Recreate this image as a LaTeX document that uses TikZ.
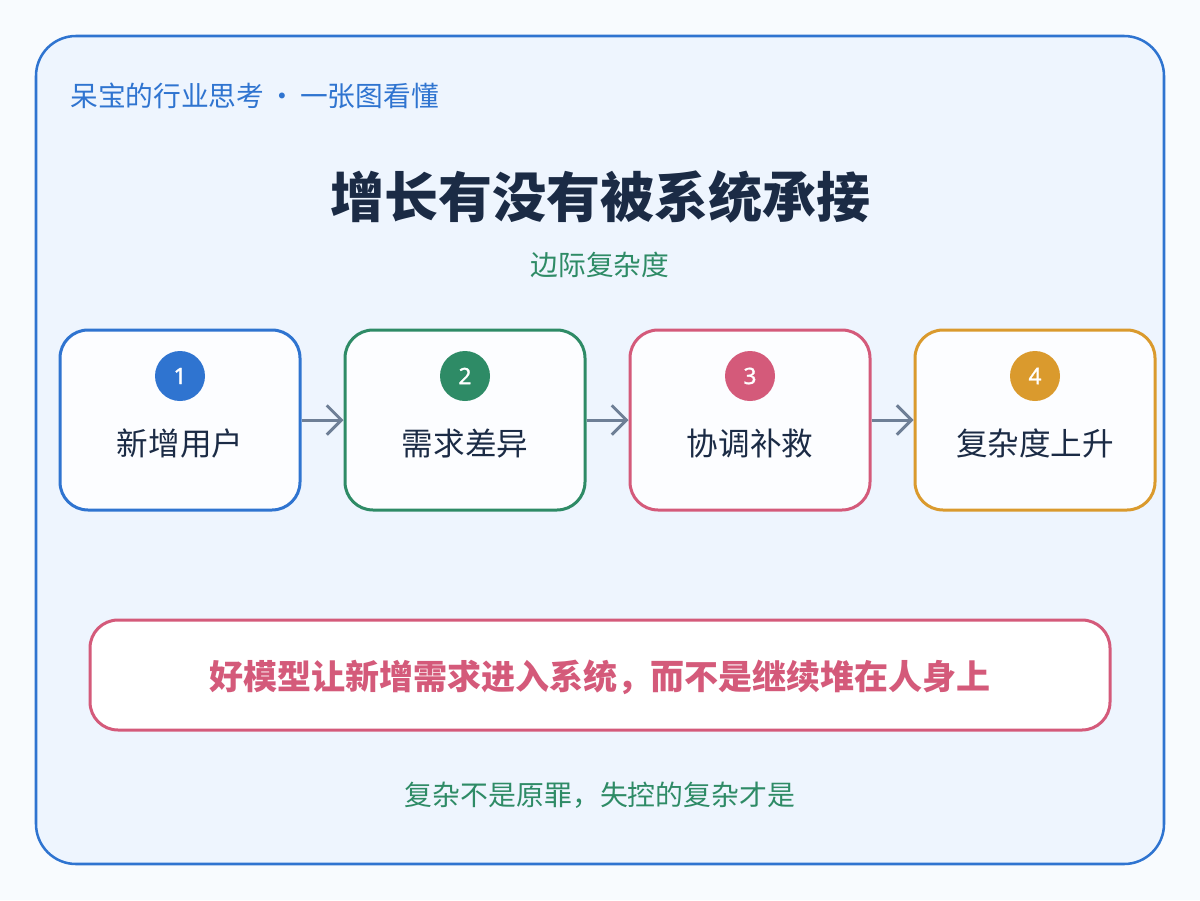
\documentclass[tikz,border=0pt]{standalone}
\usepackage{fontspec}
\setmainfont{Noto Sans CJK SC}
\newfontfamily\cjk{Noto Sans CJK SC}
\newfontfamily\numfont[FakeBold=1.2]{Noto Sans}
\usetikzlibrary{arrows.meta}
\definecolor{pagebg}{HTML}{F8FBFE}
\definecolor{panelbg}{HTML}{EEF5FE}
\definecolor{cblue}{HTML}{2F74D0}
\definecolor{cgreen}{HTML}{2E8B66}
\definecolor{cpink}{HTML}{D45A7A}
\definecolor{corange}{HTML}{DA9A2D}
\definecolor{navy}{HTML}{1B2B45}
\definecolor{arrowgray}{HTML}{6E7F96}
\definecolor{boxfill}{HTML}{FCFDFF}
\tikzset{
  stepbox/.style={draw=#1, line width=2.25pt, fill=boxfill, rounded corners=21pt,
    minimum width=180pt, minimum height=135pt, inner sep=0pt},
  numdot/.style={circle, fill=#1, minimum size=37.5pt, inner sep=0pt, text=white,
    font=\numfont\fontsize{17}{17}\selectfont},
  steplabel/.style={text=navy, font=\cjk\fontsize{23.7}{23.7}\selectfont, inner sep=0pt},
  flow/.style={draw=arrowgray, line width=2.25pt, -{Straight Barb[length=11pt,width=22pt,line width=2.25pt]}},
}
\begin{document}
\begin{tikzpicture}[x=0.75pt,y=-0.75pt]
\useasboundingbox (0,0) rectangle (1200,900);
\fill[pagebg] (0,0) rectangle (1200,900);
\draw[cblue, line width=1.9pt, fill=panelbg, rounded corners=30pt] (36,36) rectangle (1164,864);
\node[anchor=west, text=cblue, font=\cjk\fontsize{20.8}{20.8}\selectfont, inner sep=0pt] (hdr) at (70,96) {呆宝的行业思考\hspace{3pt}·\hspace{3pt}一张图看懂};
\node[text=navy, font=\cjk\bfseries\fontsize{40.5}{40.5}\selectfont, inner sep=0pt] (title) at (600,197) {增长有没有被系统承接};
\node[text=cgreen, font=\cjk\fontsize{20.8}{20.8}\selectfont, inner sep=0pt] (sub) at (600,265) {边际复杂度};

\node[stepbox=cblue] (b1) at (180,420) {};
\node[stepbox=cgreen] (b2) at (465,420) {};
\node[stepbox=cpink] (b3) at (750,420) {};
\node[stepbox=corange] (b4) at (1035,420) {};

\node[numdot=cblue] (n1) at (180,376) {1};
\node[numdot=cgreen] (n2) at (465,376) {2};
\node[numdot=cpink] (n3) at (750,376) {3};
\node[numdot=corange] (n4) at (1035,376) {4};

\node[steplabel] (l1) at (180,443) {新增用户};
\node[steplabel] (l2) at (465,443) {需求差异};
\node[steplabel] (l3) at (750,443) {协调补救};
\node[steplabel] (l4) at (1035,443) {复杂度上升};

\draw[flow] (b1.east) -- (b2.west);
\draw[flow] (b2.east) -- (b3.west);
\draw[flow] (b3.east) -- (b4.west);

\node[draw=cpink, line width=2.25pt, fill=white, rounded corners=21pt,
  minimum width=765pt, minimum height=82.5pt, inner sep=0pt] (msg) at (600,675) {};
\node[text=cpink, font=\cjk\bfseries\fontsize{25.5}{25.5}\selectfont, inner sep=0pt] (msgtext) at (600,677) {好模型让新增需求进入系统，而不是继续堆在人身上};

\node[text=cgreen, font=\cjk\fontsize{20.9}{20.9}\selectfont, inner sep=0pt] (foot) at (600,795) {复杂不是原罪，失控的复杂才是};
\end{tikzpicture}
\end{document}
